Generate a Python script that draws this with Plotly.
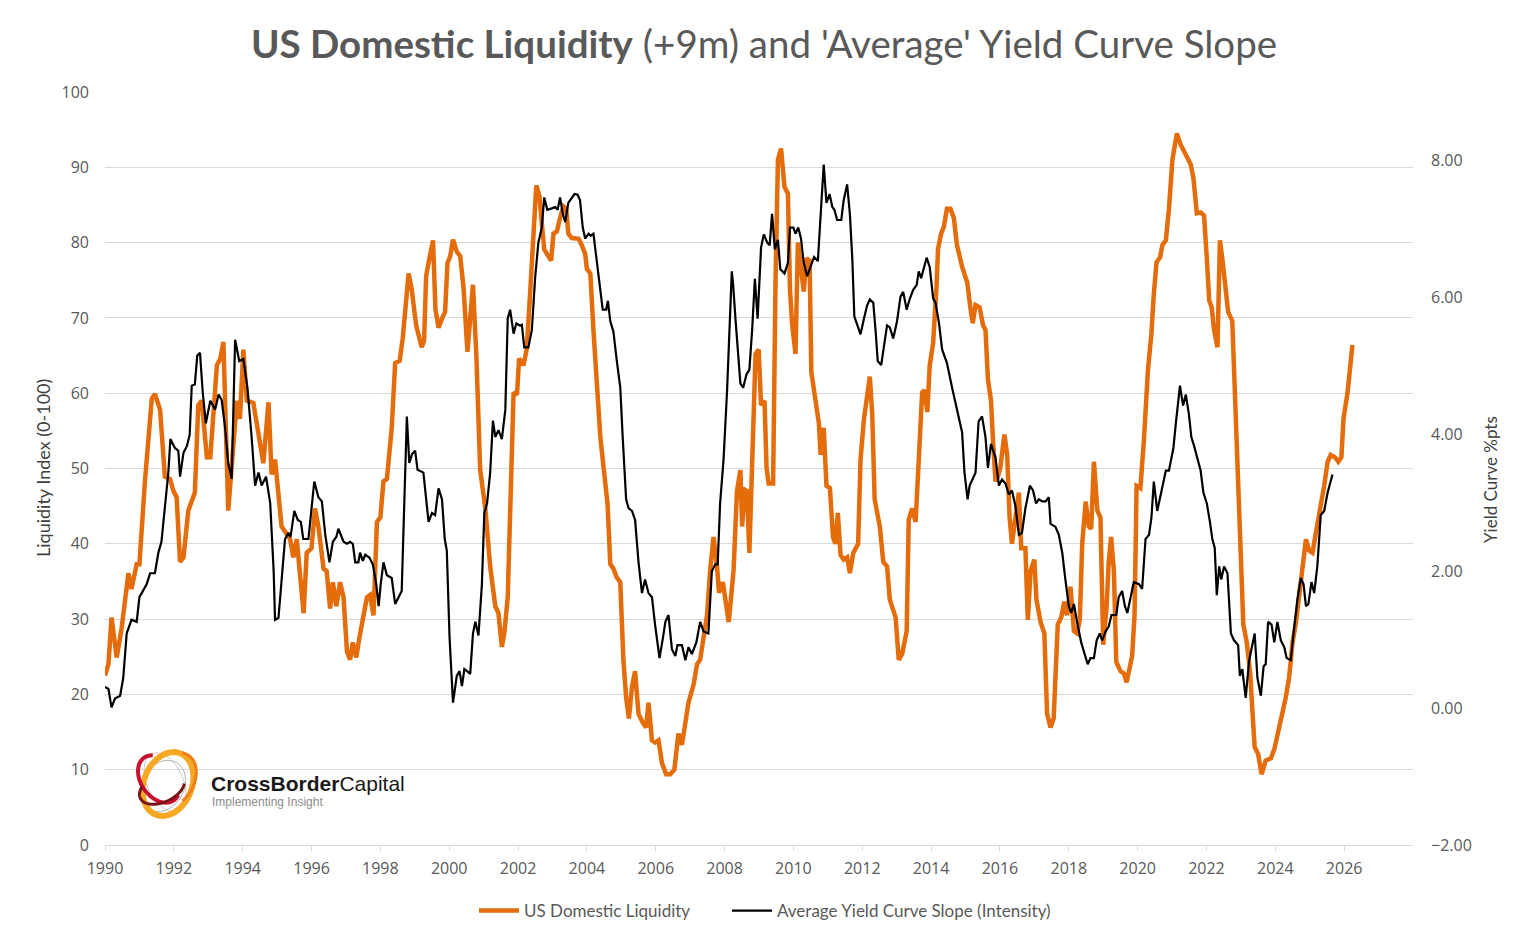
import numpy as np
import plotly.graph_objects as go

# ---------------- data ----------------
liq_t = [1990.00, 1990.10, 1990.19, 1990.34, 1990.48, 1990.68, 1990.77, 1990.92, 1991.00, 1991.16,
         1991.36, 1991.45, 1991.60, 1991.74, 1991.89, 1991.99, 1992.08, 1992.18, 1992.28, 1992.42,
         1992.61, 1992.71, 1992.81, 1992.96, 1993.06, 1993.25, 1993.35, 1993.44, 1993.58, 1993.73,
         1993.83, 1993.92, 1994.02, 1994.12, 1994.31, 1994.60, 1994.75, 1994.84, 1994.94, 1995.13,
         1995.38, 1995.47, 1995.57, 1995.77, 1995.86, 1996.00, 1996.10, 1996.20, 1996.35, 1996.44,
         1996.54, 1996.62, 1996.72, 1996.83, 1996.93, 1997.03, 1997.12, 1997.20, 1997.30, 1997.39,
         1997.51, 1997.61, 1997.70, 1997.80, 1997.90, 1998.00, 1998.09, 1998.19, 1998.33, 1998.43,
         1998.56, 1998.65, 1998.82, 1998.91, 1999.04, 1999.20, 1999.27, 1999.33, 1999.45, 1999.53,
         1999.60, 1999.69, 1999.79, 1999.88, 1999.95, 2000.03, 2000.11, 2000.22, 2000.32, 2000.42,
         2000.53, 2000.61, 2000.69, 2000.79, 2000.90, 2001.05, 2001.19, 2001.34, 2001.43, 2001.53,
         2001.60, 2001.70, 2001.77, 2001.87, 2001.97, 2002.03, 2002.16, 2002.25, 2002.35, 2002.45,
         2002.53, 2002.62, 2002.69, 2002.76, 2002.88, 2002.96, 2003.03, 2003.13, 2003.22, 2003.32,
         2003.40, 2003.46, 2003.56, 2003.76, 2003.85, 2003.95, 2004.00, 2004.10, 2004.19, 2004.31,
         2004.39, 2004.50, 2004.60, 2004.68, 2004.77, 2004.87, 2004.97, 2005.06, 2005.14, 2005.22,
         2005.31, 2005.40, 2005.50, 2005.63, 2005.72, 2005.79, 2005.89, 2005.98, 2006.08, 2006.18,
         2006.30, 2006.42, 2006.54, 2006.66, 2006.76, 2006.86, 2006.95, 2007.10, 2007.20, 2007.29,
         2007.39, 2007.49, 2007.58, 2007.68, 2007.78, 2007.84, 2007.95, 2008.12, 2008.26, 2008.36,
         2008.46, 2008.51, 2008.58, 2008.65, 2008.72, 2008.80, 2008.90, 2008.99, 2009.06, 2009.16,
         2009.22, 2009.28, 2009.41, 2009.48, 2009.55, 2009.64, 2009.74, 2009.84, 2009.90, 2009.96,
         2010.06, 2010.13, 2010.22, 2010.30, 2010.38, 2010.47, 2010.52, 2010.64, 2010.74, 2010.79,
         2010.88, 2010.96, 2011.06, 2011.15, 2011.22, 2011.29, 2011.37, 2011.46, 2011.56, 2011.64,
         2011.74, 2011.88, 2011.95, 2012.05, 2012.14, 2012.22, 2012.29, 2012.36, 2012.51, 2012.61,
         2012.72, 2012.80, 2012.97, 2013.06, 2013.16, 2013.29, 2013.35, 2013.45, 2013.55, 2013.64,
         2013.74, 2013.81, 2013.89, 2013.96, 2014.06, 2014.16, 2014.20, 2014.29, 2014.37, 2014.46,
         2014.56, 2014.66, 2014.75, 2014.90, 2015.05, 2015.14, 2015.21, 2015.29, 2015.41, 2015.51,
         2015.58, 2015.65, 2015.74, 2015.80, 2015.87, 2015.94, 2016.01, 2016.13, 2016.21, 2016.28,
         2016.35, 2016.45, 2016.55, 2016.62, 2016.74, 2016.81, 2016.89, 2017.00, 2017.06, 2017.18,
         2017.29, 2017.37, 2017.47, 2017.56, 2017.68, 2017.78, 2017.87, 2017.95, 2018.05, 2018.15,
         2018.24, 2018.32, 2018.39, 2018.49, 2018.58, 2018.65, 2018.73, 2018.83, 2018.92, 2019.00,
         2019.10, 2019.16, 2019.23, 2019.31, 2019.38, 2019.50, 2019.60, 2019.68, 2019.74, 2019.84,
         2019.91, 2019.97, 2020.08, 2020.18, 2020.30, 2020.40, 2020.47, 2020.55, 2020.65, 2020.72,
         2020.82, 2020.91, 2021.01, 2021.14, 2021.25, 2021.40, 2021.54, 2021.62, 2021.72, 2021.83,
         2021.93, 2022.01, 2022.08, 2022.15, 2022.22, 2022.32, 2022.39, 2022.46, 2022.56, 2022.63,
         2022.75, 2022.82, 2022.92, 2023.00, 2023.07, 2023.17, 2023.27, 2023.34, 2023.40, 2023.50,
         2023.60, 2023.72, 2023.87, 2023.97, 2024.06, 2024.18, 2024.30, 2024.40, 2024.50, 2024.60,
         2024.69, 2024.79, 2024.89, 2024.98, 2025.08, 2025.18, 2025.32, 2025.42, 2025.52, 2025.61,
         2025.73, 2025.83, 2025.92, 2025.98, 2026.10, 2026.17, 2026.24]
liq_v = [22.5, 24.0, 30.2, 24.9, 28.7, 36.1, 34.0, 37.3, 37.3, 48.3,
         59.3, 59.9, 57.8, 48.9, 48.6, 47.0, 46.2, 37.6, 38.2, 44.4,
         46.8, 58.4, 59.0, 51.5, 51.5, 63.7, 64.6, 66.8, 44.4, 53.6,
         59.0, 56.6, 65.8, 59.0, 58.7, 50.7, 58.8, 49.2, 51.2, 42.3,
         40.6, 38.2, 40.6, 30.8, 38.8, 39.4, 44.7, 42.3, 36.7, 36.4,
         31.4, 34.9, 31.7, 34.9, 32.9, 25.7, 24.6, 26.9, 24.9, 27.5,
         30.5, 32.9, 33.2, 30.5, 42.9, 43.5, 48.3, 48.6, 55.4, 64.0,
         64.3, 67.3, 75.9, 73.8, 69.0, 66.1, 67.0, 75.6, 78.5, 80.3,
         71.1, 68.7, 69.9, 70.8, 77.3, 78.2, 80.4, 78.8, 78.2, 73.8,
         65.5, 69.3, 74.4, 64.9, 49.8, 44.7, 37.0, 31.7, 30.8, 26.3,
         28.1, 32.9, 42.9, 60.1, 59.8, 64.6, 63.7, 65.8, 73.2, 82.7,
         87.6, 86.2, 82.1, 79.1, 78.2, 77.6, 81.2, 81.5, 83.3, 84.8,
         84.5, 81.2, 80.6, 80.5, 79.7, 78.5, 76.5, 75.9, 68.4, 60.1,
         54.2, 49.5, 45.3, 37.3, 36.7, 35.5, 34.9, 24.6, 19.6, 16.8,
         21.0, 23.1, 17.4, 16.2, 15.6, 18.9, 13.9, 13.6, 13.9, 10.9,
         9.4, 9.4, 10.0, 14.8, 13.3, 16.2, 18.9, 21.3, 24.0, 24.6,
         28.1, 30.5, 36.4, 40.9, 37.0, 33.5, 34.9, 29.6, 36.4, 47.0,
         49.8, 42.3, 47.2, 47.0, 38.8, 50.1, 65.2, 65.8, 58.4, 59.0,
         50.1, 48.0, 48.0, 75.0, 91.0, 92.5, 87.4, 86.5, 73.8, 69.3,
         65.2, 80.0, 76.8, 73.5, 77.9, 77.6, 62.8, 59.0, 56.0, 51.8,
         55.4, 47.7, 47.4, 40.9, 40.0, 44.1, 38.5, 37.9, 38.2, 36.1,
         38.8, 40.0, 51.2, 56.6, 60.1, 62.2, 57.2, 45.9, 42.3, 37.6,
         37.0, 32.6, 30.2, 24.6, 25.4, 28.4, 43.2, 44.7, 42.9, 51.2,
         60.1, 60.4, 57.5, 63.7, 66.7, 74.4, 79.1, 81.2, 82.1, 84.5,
         84.5, 83.3, 79.7, 76.8, 74.7, 71.4, 69.3, 71.7, 71.4, 69.0,
         68.4, 61.9, 59.0, 53.6, 48.3, 48.9, 50.1, 54.5, 51.8, 43.5,
         40.0, 43.5, 46.8, 39.4, 39.4, 29.9, 36.4, 37.9, 32.6, 29.6,
         28.1, 17.4, 15.6, 16.8, 29.3, 30.2, 32.3, 30.5, 34.3, 28.4,
         28.1, 29.9, 40.0, 45.6, 42.3, 42.0, 50.9, 44.4, 43.5, 26.6,
         31.7, 37.6, 40.9, 36.4, 24.3, 23.1, 22.8, 21.6, 22.8, 25.1,
         30.5, 47.7, 47.4, 53.6, 63.1, 67.9, 73.2, 77.4, 78.0, 79.7,
         80.3, 84.5, 91.0, 94.5, 93.0, 91.6, 90.4, 88.6, 83.9, 84.0,
         83.6, 77.9, 72.3, 71.4, 68.4, 66.1, 80.3, 77.9, 73.8, 70.8,
         69.6, 60.1, 47.0, 37.6, 29.3, 26.9, 22.8, 17.4, 13.0, 12.1,
         9.4, 11.2, 11.5, 12.7, 14.5, 17.2, 19.5, 22.2, 26.9, 29.6,
         32.9, 35.8, 40.6, 39.1, 38.8, 41.5, 44.7, 47.7, 50.9, 51.8,
         51.5, 50.9, 51.5, 56.6, 60.1, 63.1, 66.4]

yc_t = [1990.00, 1990.10, 1990.19, 1990.29, 1990.44, 1990.53, 1990.63, 1990.77, 1990.92, 1991.00,
        1991.21, 1991.31, 1991.45, 1991.55, 1991.64, 1991.74, 1991.84, 1991.90, 1992.03, 1992.13,
        1992.18, 1992.28, 1992.38, 1992.46, 1992.52, 1992.61, 1992.68, 1992.76, 1992.84, 1992.93,
        1993.06, 1993.20, 1993.30, 1993.39, 1993.49, 1993.58, 1993.68, 1993.78, 1993.90, 1994.02,
        1994.14, 1994.26, 1994.36, 1994.46, 1994.55, 1994.68, 1994.80, 1994.90, 1994.94, 1995.04,
        1995.13, 1995.23, 1995.33, 1995.39, 1995.50, 1995.60, 1995.69, 1995.76, 1995.91, 1996.08,
        1996.20, 1996.30, 1996.40, 1996.52, 1996.62, 1996.72, 1996.78, 1996.93, 1997.03, 1997.12,
        1997.20, 1997.27, 1997.36, 1997.41, 1997.49, 1997.56, 1997.68, 1997.78, 1997.88, 1997.95,
        1998.01, 1998.09, 1998.19, 1998.33, 1998.43, 1998.53, 1998.62, 1998.69, 1998.77, 1998.84,
        1998.92, 1999.01, 1999.08, 1999.25, 1999.40, 1999.50, 1999.59, 1999.69, 1999.79, 1999.87,
        1999.93, 2000.01, 2000.11, 2000.22, 2000.30, 2000.37, 2000.44, 2000.52, 2000.61, 2000.69,
        2000.76, 2000.85, 2000.95, 2001.02, 2001.10, 2001.19, 2001.27, 2001.34, 2001.43, 2001.53,
        2001.63, 2001.70, 2001.77, 2001.87, 2001.95, 2002.05, 2002.11, 2002.18, 2002.30, 2002.40,
        2002.50, 2002.59, 2002.69, 2002.76, 2002.85, 2002.98, 2003.08, 2003.15, 2003.22, 2003.30,
        2003.37, 2003.46, 2003.56, 2003.64, 2003.73, 2003.80, 2003.88, 2003.95, 2004.05, 2004.11,
        2004.19, 2004.29, 2004.37, 2004.46, 2004.56, 2004.61, 2004.68, 2004.77, 2004.87, 2004.97,
        2005.04, 2005.14, 2005.21, 2005.31, 2005.40, 2005.50, 2005.60, 2005.69, 2005.79, 2005.89,
        2005.98, 2006.11, 2006.21, 2006.28, 2006.37, 2006.47, 2006.57, 2006.63, 2006.76, 2006.86,
        2006.95, 2007.05, 2007.18, 2007.29, 2007.39, 2007.53, 2007.63, 2007.73, 2007.80, 2007.87,
        2007.97, 2008.07, 2008.21, 2008.25, 2008.32, 2008.38, 2008.46, 2008.54, 2008.64, 2008.72,
        2008.80, 2008.88, 2008.96, 2009.06, 2009.14, 2009.24, 2009.31, 2009.38, 2009.46, 2009.55,
        2009.62, 2009.74, 2009.84, 2009.90, 2010.00, 2010.06, 2010.14, 2010.22, 2010.30, 2010.40,
        2010.50, 2010.60, 2010.71, 2010.79, 2010.88, 2010.96, 2011.05, 2011.13, 2011.19, 2011.27,
        2011.39, 2011.46, 2011.56, 2011.64, 2011.71, 2011.77, 2011.85, 2011.95, 2012.05, 2012.14,
        2012.22, 2012.32, 2012.39, 2012.45, 2012.55, 2012.65, 2012.72, 2012.80, 2012.90, 2013.01,
        2013.11, 2013.19, 2013.29, 2013.38, 2013.48, 2013.58, 2013.64, 2013.71, 2013.79, 2013.87,
        2013.96, 2014.06, 2014.13, 2014.23, 2014.32, 2014.46, 2014.61, 2014.75, 2014.90, 2014.97,
        2015.06, 2015.12, 2015.29, 2015.38, 2015.48, 2015.58, 2015.65, 2015.74, 2015.87, 2015.97,
        2016.06, 2016.16, 2016.26, 2016.35, 2016.45, 2016.55, 2016.64, 2016.74, 2016.87, 2016.96,
        2017.05, 2017.13, 2017.23, 2017.33, 2017.42, 2017.47, 2017.61, 2017.71, 2017.81, 2017.90,
        2018.00, 2018.07, 2018.15, 2018.24, 2018.36, 2018.46, 2018.55, 2018.63, 2018.73, 2018.81,
        2018.90, 2018.97, 2019.07, 2019.16, 2019.24, 2019.38, 2019.45, 2019.55, 2019.63, 2019.70,
        2019.80, 2019.89, 2020.04, 2020.13, 2020.23, 2020.33, 2020.40, 2020.47, 2020.57, 2020.69,
        2020.82, 2020.91, 2021.04, 2021.11, 2021.17, 2021.23, 2021.32, 2021.40, 2021.49, 2021.56,
        2021.64, 2021.74, 2021.83, 2021.91, 2022.01, 2022.10, 2022.17, 2022.24, 2022.30, 2022.37,
        2022.43, 2022.51, 2022.61, 2022.71, 2022.80, 2022.92, 2022.97, 2023.04, 2023.14, 2023.24,
        2023.34, 2023.40, 2023.48, 2023.58, 2023.66, 2023.72, 2023.79, 2023.89, 2023.97, 2024.06,
        2024.16, 2024.26, 2024.33, 2024.45, 2024.53, 2024.64, 2024.74, 2024.82, 2024.89, 2024.96,
        2025.05, 2025.13, 2025.22, 2025.32, 2025.42, 2025.52, 2025.66]
yc_v = [0.31, 0.28, 0.01, 0.14, 0.18, 0.44, 1.09, 1.29, 1.26, 1.62,
        1.81, 1.97, 1.97, 2.27, 2.43, 2.92, 3.44, 3.93, 3.80, 3.76,
        3.38, 3.73, 3.83, 3.99, 4.71, 4.73, 5.15, 5.19, 4.61, 4.16,
        4.49, 4.36, 4.58, 4.50, 4.09, 3.58, 3.35, 5.38, 5.07, 5.10,
        4.67, 3.96, 3.25, 3.44, 3.25, 3.38, 2.99, 2.00, 1.29, 1.32,
        1.88, 2.47, 2.56, 2.50, 2.88, 2.75, 2.72, 2.47, 2.47, 3.31,
        3.08, 3.02, 2.53, 2.13, 2.43, 2.50, 2.62, 2.43, 2.40, 2.43,
        2.40, 2.13, 2.13, 2.27, 2.15, 2.24, 2.20, 2.10, 1.81, 1.49,
        1.81, 2.13, 1.94, 1.90, 1.52, 1.62, 1.71, 2.92, 4.26, 3.58,
        3.71, 3.76, 3.48, 3.44, 2.72, 2.85, 2.82, 3.21, 3.05, 2.47,
        2.30, 1.03, 0.08, 0.47, 0.54, 0.32, 0.57, 0.54, 0.50, 1.09,
        1.26, 1.06, 1.81, 2.85, 2.99, 3.44, 4.20, 3.96, 4.06, 3.93,
        4.36, 5.69, 5.82, 5.47, 5.62, 5.59, 5.60, 5.27, 5.27, 5.52,
        6.31, 6.80, 7.02, 7.46, 7.28, 7.30, 7.32, 7.28, 7.46, 7.22,
        7.10, 7.38, 7.45, 7.51, 7.50, 7.42, 7.02, 6.86, 6.93, 6.90,
        6.93, 6.50, 6.12, 5.82, 5.82, 5.95, 5.65, 5.50, 5.07, 4.68,
        3.96, 3.05, 2.92, 2.88, 2.75, 2.13, 1.68, 1.88, 1.68, 1.62,
        1.22, 0.73, 1.03, 1.26, 1.36, 0.86, 0.76, 0.92, 0.92, 0.70,
        0.89, 0.79, 0.96, 1.26, 1.12, 1.09, 2.00, 2.10, 2.10, 2.99,
        3.63, 4.61, 6.38, 6.18, 5.66, 5.20, 4.74, 4.68, 4.88, 4.94,
        5.52, 6.27, 5.69, 6.73, 6.92, 6.80, 6.76, 7.22, 6.70, 6.84,
        6.41, 6.35, 6.50, 7.02, 7.02, 6.93, 7.02, 6.86, 6.50, 6.31,
        6.46, 6.59, 6.53, 7.28, 7.94, 7.38, 7.51, 7.32, 7.28, 7.13,
        7.13, 7.42, 7.65, 7.22, 6.57, 5.72, 5.59, 5.46, 5.69, 5.88,
        5.97, 5.92, 5.49, 5.07, 5.01, 5.33, 5.59, 5.56, 5.40, 5.65,
        6.01, 6.08, 5.82, 5.98, 6.11, 6.18, 6.38, 6.28, 6.44, 6.58,
        6.44, 5.98, 5.92, 5.62, 5.24, 5.04, 4.68, 4.36, 4.03, 3.44,
        3.05, 3.25, 3.44, 4.19, 4.26, 3.96, 3.51, 3.86, 3.66, 3.25,
        3.34, 3.28, 3.12, 3.18, 2.95, 2.53, 2.56, 2.92, 3.25, 3.18,
        2.99, 3.05, 3.02, 3.02, 3.08, 2.69, 2.65, 2.53, 2.27, 1.88,
        1.49, 1.39, 1.52, 1.26, 0.96, 0.79, 0.64, 0.73, 0.73, 0.99,
        1.09, 0.99, 1.12, 1.19, 1.36, 1.36, 1.62, 1.71, 1.49, 1.39,
        1.62, 1.84, 1.81, 1.74, 2.47, 2.53, 2.78, 3.31, 2.88, 3.18,
        3.47, 3.47, 3.80, 4.16, 4.48, 4.71, 4.42, 4.58, 4.29, 3.96,
        3.83, 3.66, 3.47, 3.15, 2.99, 2.72, 2.47, 2.34, 1.65, 2.07,
        1.88, 2.07, 1.97, 1.09, 0.99, 0.92, 0.47, 0.57, 0.15, 0.70,
        0.96, 1.09, 0.44, 0.18, 0.61, 0.64, 1.26, 1.22, 0.96, 1.26,
        0.99, 0.89, 0.73, 0.70, 1.09, 1.58, 1.90, 1.81, 1.49, 1.52,
        1.84, 1.68, 2.07, 2.82, 2.88, 3.15, 3.41]

x_ticks = list(range(1990, 2027, 2))
left_ticks = list(range(0, 101, 10))
right_ticks = [-2, 0, 2, 4, 6, 8]

# ---------------- layout geometry (pixels) ----------------
W, H = 1528, 942
L, R, T, B = 105, 1413, 92, 845
PW, PH = R - L, B - T


def px(x):
    return (x - L) / PW


def py(y):
    return (B - y) / PH


ORANGE = "#E46C0A"
GRID = "#D9D9D9"
TXT = "#595959"
TICKFONT = dict(family="Open Sans", size=16, color=TXT)
LEGFONT = dict(family="Lato", size=17, color=TXT)

fig = go.Figure()
fig.add_trace(go.Scatter(x=liq_t, y=liq_v, mode="lines", name="US Domestic Liquidity",
                         line=dict(color=ORANGE, width=4.5), yaxis="y", legend="legend"))
fig.add_trace(go.Scatter(x=yc_t, y=yc_v, mode="lines", name="Average Yield Curve Slope (Intensity)",
                         line=dict(color="#000000", width=2.2), yaxis="y2", legend="legend2"))

# ---------------- logo (decoration) ----------------
shapes = []


def ring(cx, cy, rx, ry, ang, color, width, t0=0, t1=2 * np.pi):
    t = np.linspace(t0, t1, 80)
    a = np.deg2rad(ang)
    xs = cx + rx * np.cos(t) * np.cos(a) - ry * np.sin(t) * np.sin(a)
    ys = cy + rx * np.cos(t) * np.sin(a) + ry * np.sin(t) * np.cos(a)
    path = "M " + " L ".join(f"{px(x):.5f},{py(y):.5f}" for x, y in zip(xs, ys))
    shapes.append(dict(type="path", path=path, xref="paper", yref="paper",
                       line=dict(color=color, width=width), layer="above"))


ring(165, 782, 18, 31, -25, "#C8C8C8", 1)
ring(163, 786, 21, 27, 30, "#B0B0B0", 1)
ring(168, 784, 24, 33, 22, "#F7A823", 6)
ring(159, 779, 18, 26, -35, "#C8102E", 4, 1.2, 5.2)
ring(162, 788, 24, 14, -25, "#7A1416", 3, 0.4, 3.9)
ring(171, 781, 22, 31, 35, "#EE7F1A", 3, 4.4, 6.6)

annotations = [
    dict(text="<b>CrossBorder</b>Capital", x=px(209), y=py(783), xref="paper", yref="paper",
         xanchor="left", yanchor="middle", showarrow=False,
         font=dict(family="Liberation Sans, Arial", size=21, color="#1A1A1A")),
    dict(text="Implementing Insight", x=px(210), y=py(802), xref="paper", yref="paper",
         xanchor="left", yanchor="middle", showarrow=False,
         font=dict(family="Liberation Sans, Arial", size=12, color="#8C8C8C")),
    dict(text="Liquidity Index (0-100)", x=px(43), y=py(468), xref="paper", yref="paper",
         textangle=-90, showarrow=False, xanchor="center", yanchor="middle",
         font=dict(family="Lato", size=18, color="#404040")),
    dict(text="Yield Curve %pts", x=px(1490), y=py(480), xref="paper", yref="paper",
         textangle=-90, showarrow=False, xanchor="center", yanchor="middle",
         font=dict(family="Lato", size=17, color="#404040")),
]

fig.update_layout(
    width=W, height=H,
    margin=dict(l=L, r=W - R, t=T, b=H - B),
    paper_bgcolor="white", plot_bgcolor="white",
    title=dict(text="<b>US Domestic Liquidity</b> (+9m) and 'Average' Yield Curve Slope",
               x=0.5, xref="container", xanchor="center",
               y=1 - 45 / H, yref="container", yanchor="middle",
               font=dict(family="Lato", size=38.5, color=TXT)),
    xaxis=dict(range=[1990, 2028], tickmode="array", tickvals=x_ticks,
               ticktext=[str(v) for v in x_ticks],
               showgrid=False, zeroline=False, showline=True, linecolor=GRID, linewidth=1,
               ticks="outside", ticklen=5, tickcolor=GRID, ticklabelstandoff=4,
               tickfont=TICKFONT),
    yaxis=dict(range=[0, 100], tickmode="array", tickvals=left_ticks,
               showgrid=True, gridcolor=GRID, gridwidth=1, zeroline=False,
               ticks="", ticklabelstandoff=15, tickfont=TICKFONT),
    yaxis2=dict(range=[-2, 9], overlaying="y", side="right", tickmode="array",
                tickvals=right_ticks, tickformat=".2f",
                showgrid=False, zeroline=False, ticks="", ticklabelstandoff=17,
                tickfont=TICKFONT),
    legend=dict(orientation="h", x=px(474), xanchor="left", y=py(911), yanchor="middle",
                xref="paper", yref="paper", font=LEGFONT, itemwidth=40,
                bgcolor="rgba(0,0,0,0)"),
    legend2=dict(orientation="h", x=px(727), xanchor="left", y=py(911), yanchor="middle",
                 xref="paper", yref="paper", font=LEGFONT, itemwidth=40,
                 bgcolor="rgba(0,0,0,0)"),
    shapes=shapes,
    annotations=annotations,
    showlegend=True,
)

fig.write_html("out.html")
